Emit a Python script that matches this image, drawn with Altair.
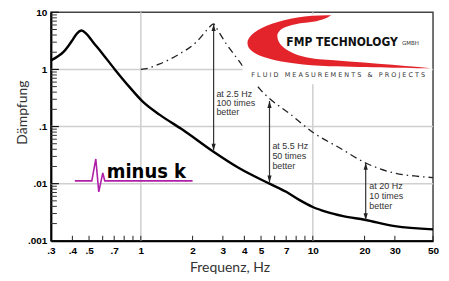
import altair as alt
import pandas as pd

# ---- data ----
mk_freq = [0.3, 0.33, 0.354, 0.38, 0.404, 0.423, 0.452, 0.483, 0.528, 0.6, 0.706, 0.86, 1.03,
           1.29, 1.76, 2.62, 3.74, 5.6, 7.0, 8.34, 10, 12, 15, 20, 30, 50]
mk_damp = [1.43, 1.7, 2.0, 2.6, 3.4, 4.18, 4.8, 4.18, 3.0, 1.87, 1.0, 0.49, 0.27,
           0.16, 0.087, 0.037, 0.0186, 0.0100, 0.0072, 0.0052, 0.0039, 0.0032, 0.0027, 0.00233,
           0.0018, 0.00158]

conv_freq = [1.0, 1.1, 1.29, 1.68, 2.1, 2.45, 2.6, 2.65, 2.72, 2.9, 3.14, 3.5, 3.83, 4.3, 4.9,
             5.6, 7.3, 10.2, 14.2, 20.3, 30.2, 40, 50]
conv_damp = [1.0, 1.05, 1.25, 1.87, 3.0, 5.1, 6.1, 6.25, 5.6, 4.1, 2.8, 1.8, 1.25, 0.78, 0.46,
             0.31, 0.17, 0.076, 0.043, 0.023, 0.0152, 0.0135, 0.0128]

x_label_values = [0.3, 0.4, 0.5, 0.7, 1, 2, 3, 4, 5, 7, 10, 20, 30, 50]
x_tick_values = [0.4, 0.5, 0.6, 0.7, 0.8, 0.9, 1, 2, 3, 4, 5, 6, 7, 8, 9, 10, 20, 30, 50]
y_label_values = [0.001, 0.01, 0.1, 1, 10]
grid_x = [1, 10]
grid_y = [0.01, 0.1, 1]

arrow_freq = [2.65, 5.6, 20.3]
arrow_top = [6.2, 0.28, 0.023]
arrow_bottom = [0.038, 0.0105, 0.0023]

note_freq = [2.75, 5.82, 21.3]
note_lines = [["at 2.5 Hz", "100 times", "better"],
              ["at 5.5 Hz", "50 times", "better"],
              ["at 20 Hz", "10 times", "better"]]
note_damp = [[0.374, 0.257, 0.177],
             [0.0448, 0.0299, 0.020],
             [0.00895, 0.00598, 0.0040]]

# ---- tables ----
mk = pd.DataFrame({"f": mk_freq, "d": mk_damp})
conv = pd.DataFrame({"f": conv_freq, "d": conv_damp})
xt = pd.DataFrame({"f": x_tick_values})
yt_vals = [k * 10 ** e for e in range(-3, 1) for k in range(1, 10)] + [10]
yt = pd.DataFrame({"d": yt_vals, "major": [v in y_label_values for v in yt_vals]})
gx = pd.DataFrame({"f": grid_x})
gy = pd.DataFrame({"d": grid_y})
arrows = pd.DataFrame({"f": arrow_freq, "d": arrow_top, "bot": arrow_bottom})
arrow_heads_dn = pd.DataFrame({"f": arrow_freq, "d": arrow_bottom})
notes = pd.DataFrame({
    "f": [note_freq[i] for i in range(3) for _ in range(3)],
    "d": [v for row in note_damp for v in row],
    "t": [v for row in note_lines for v in row],
})
one = pd.DataFrame({"a": [0]})

W, H = 383, 229
xs = alt.Scale(type="log", domain=[0.3, 50], nice=False)
ys = alt.Scale(type="log", domain=[0.001, 10], nice=False)
LBL = "replace(toString(datum.value), '0.', '.')"

x_axis = alt.Axis(values=x_label_values, labelExpr=LBL, ticks=False, grid=False,
                  domainColor="black", domainWidth=2, labelFont="Liberation Sans",
                  labelFontWeight="bold", labelFontSize=10, labelColor="black",
                  labelPadding=5, labelFlush=False, labelOverlap=False, labelBound=False,
                  title="Frequenz, Hz", titleFont="Lato", titleFontWeight="normal",
                  titleFontSize=14, titleColor="#333", titleX=179, titleY=27,
                  titleBaseline="middle", titleAlign="center")
y_axis = alt.Axis(values=y_label_values, labelExpr=LBL, ticks=False, grid=False,
                  domainColor="black", domainWidth=2, labelFont="Liberation Sans",
                  labelFontWeight="bold", labelFontSize=10, labelColor="black",
                  labelPadding=4, labelFlush=False, labelOverlap=False, labelBound=False,
                  labelBaseline="middle",
                  title="Dämpfung", titleFont="Lato", titleFontWeight="normal",
                  titleFontSize=14, titleColor="#333", titleX=-28, titleY=100,
                  titleAngle=270, titleBaseline="middle", titleAlign="center")

X = alt.X("f:Q", scale=xs, axis=x_axis, title="Frequenz, Hz")
Y = alt.Y("d:Q", scale=ys, axis=y_axis, title="Dämpfung")

grid_v = alt.Chart(gx).mark_rule(color="#cfcfcf", strokeWidth=1.5).encode(x=X)
grid_h = alt.Chart(gy).mark_rule(color="#cfcfcf", strokeWidth=1.5).encode(y=Y)
xticks = alt.Chart(xt).mark_rule(color="#222", strokeWidth=1).encode(
    x=X, y=alt.value(H), y2=alt.value(H - 5))
yticks_minor = alt.Chart(yt[~yt.major]).mark_rule(color="#333", strokeWidth=1).encode(
    y=Y, x=alt.value(0), x2=alt.value(6))
yticks_major = alt.Chart(yt[yt.major]).mark_rule(color="#111", strokeWidth=1.2).encode(
    y=Y, x=alt.value(0), x2=alt.value(8))

conv_line = alt.Chart(conv).mark_line(color="#222", strokeWidth=1.3,
                                      strokeDash=[7, 4, 1.5, 4], interpolate="monotone").encode(
    x=X, y=Y)
mk_line = alt.Chart(mk).mark_line(color="black", strokeWidth=2.4, interpolate="monotone").encode(
    x=X, y=Y)

# ---- FMP logo ----
logo_bg = alt.Chart(one).mark_rect(color="white").encode(
    x=alt.value(192), x2=alt.value(382), y=alt.value(2), y2=alt.value(72))
crescent_path = ("M-8,-27 C-50,-28 -92,-14 -92,1 C-92,14 -60,22 -10,24 "
                 "C30,25 70,26 92,26 C60,23 20,20 -20,17 C-45,15 -62,5 -62,-6 "
                 "C-62,-14 -50,-18 -30,-20 C-20,-21 -12,-24 -8,-27 Z")
crescent = alt.Chart(one).mark_point(shape=crescent_path, size=4, filled=True,
                                     color="#e3252b", opacity=1, strokeWidth=0).encode(
    x=alt.value(289), y=alt.value(30))
fmp = alt.Chart(one).mark_text(text="FMP TECHNOLOGY", font="DejaVu Sans Condensed, DejaVu Sans",
                               fontWeight="bold", fontSize=12, color="#111", align="left",
                               baseline="alphabetic").encode(x=alt.value(236), y=alt.value(34))
gmbh = alt.Chart(one).mark_text(text="GMBH", font="DejaVu Sans", fontSize=5.5, color="#333",
                                align="left", baseline="alphabetic").encode(
    x=alt.value(352), y=alt.value(33))
NB = "\u00a0"
fluid_text = (NB * 3).join(NB.join(w) for w in ["FLUID", "MEASUREMENTS", "&", "PROJECTS"])
fluid = alt.Chart(one).mark_text(
    text=fluid_text, font="DejaVu Sans", fontSize=6.5, color="#333",
    align="center", baseline="middle").encode(x=alt.value(288), y=alt.value(63))

# ---- minus k logo ----
beat_path = "M-59,0 L-42,0 L-38,-22 L-35,11 L-31,-8 L-29,0 L59,0"
beat = alt.Chart(one).mark_point(shape=beat_path, size=4, filled=False, color="#b01fa8",
                                 opacity=1, strokeWidth=1.6).encode(
    x=alt.value(83), y=alt.value(169))
minusk = alt.Chart(one).mark_text(text="minus k",
                                  font="DejaVu Sans Condensed, sans-serif",
                                  fontWeight="bold", fontSize=20, color="black", align="left",
                                  baseline="alphabetic").encode(x=alt.value(56), y=alt.value(166))

# ---- arrows and notes ----
arrow_shaft = alt.Chart(arrows).mark_rule(color="#333", strokeWidth=1.2).encode(
    x=X, y=Y, y2="bot:Q")
head_up = alt.Chart(arrows).mark_point(shape="M0,0L0.7,2.3L-0.7,2.3Z", size=36, filled=True,
                                       color="#222", opacity=1).encode(x=X, y=Y)
head_dn = alt.Chart(arrow_heads_dn).mark_point(shape="M0,0L0.7,-2.3L-0.7,-2.3Z", size=36,
                                               filled=True, color="#222", opacity=1).encode(
    x=X, y=Y)
note_text = alt.Chart(notes).mark_text(font="Liberation Sans", fontSize=9, color="#333",
                                       align="left", baseline="middle").encode(
    x=X, y=Y, text="t:N")

chart = alt.layer(
    grid_v, grid_h, xticks, yticks_minor, yticks_major, conv_line, mk_line,
    logo_bg, crescent, fmp, gmbh, fluid, beat, minusk,
    arrow_shaft, head_up, head_dn, note_text,
).properties(
    width=W, height=H, autosize="none",
    padding={"left": 43, "top": 4, "right": 8, "bottom": 33},
    background="white",
).configure_view(stroke="#444", strokeWidth=1.5)

chart.save("out.html", embed_options={"renderer": "svg", "actions": False})
